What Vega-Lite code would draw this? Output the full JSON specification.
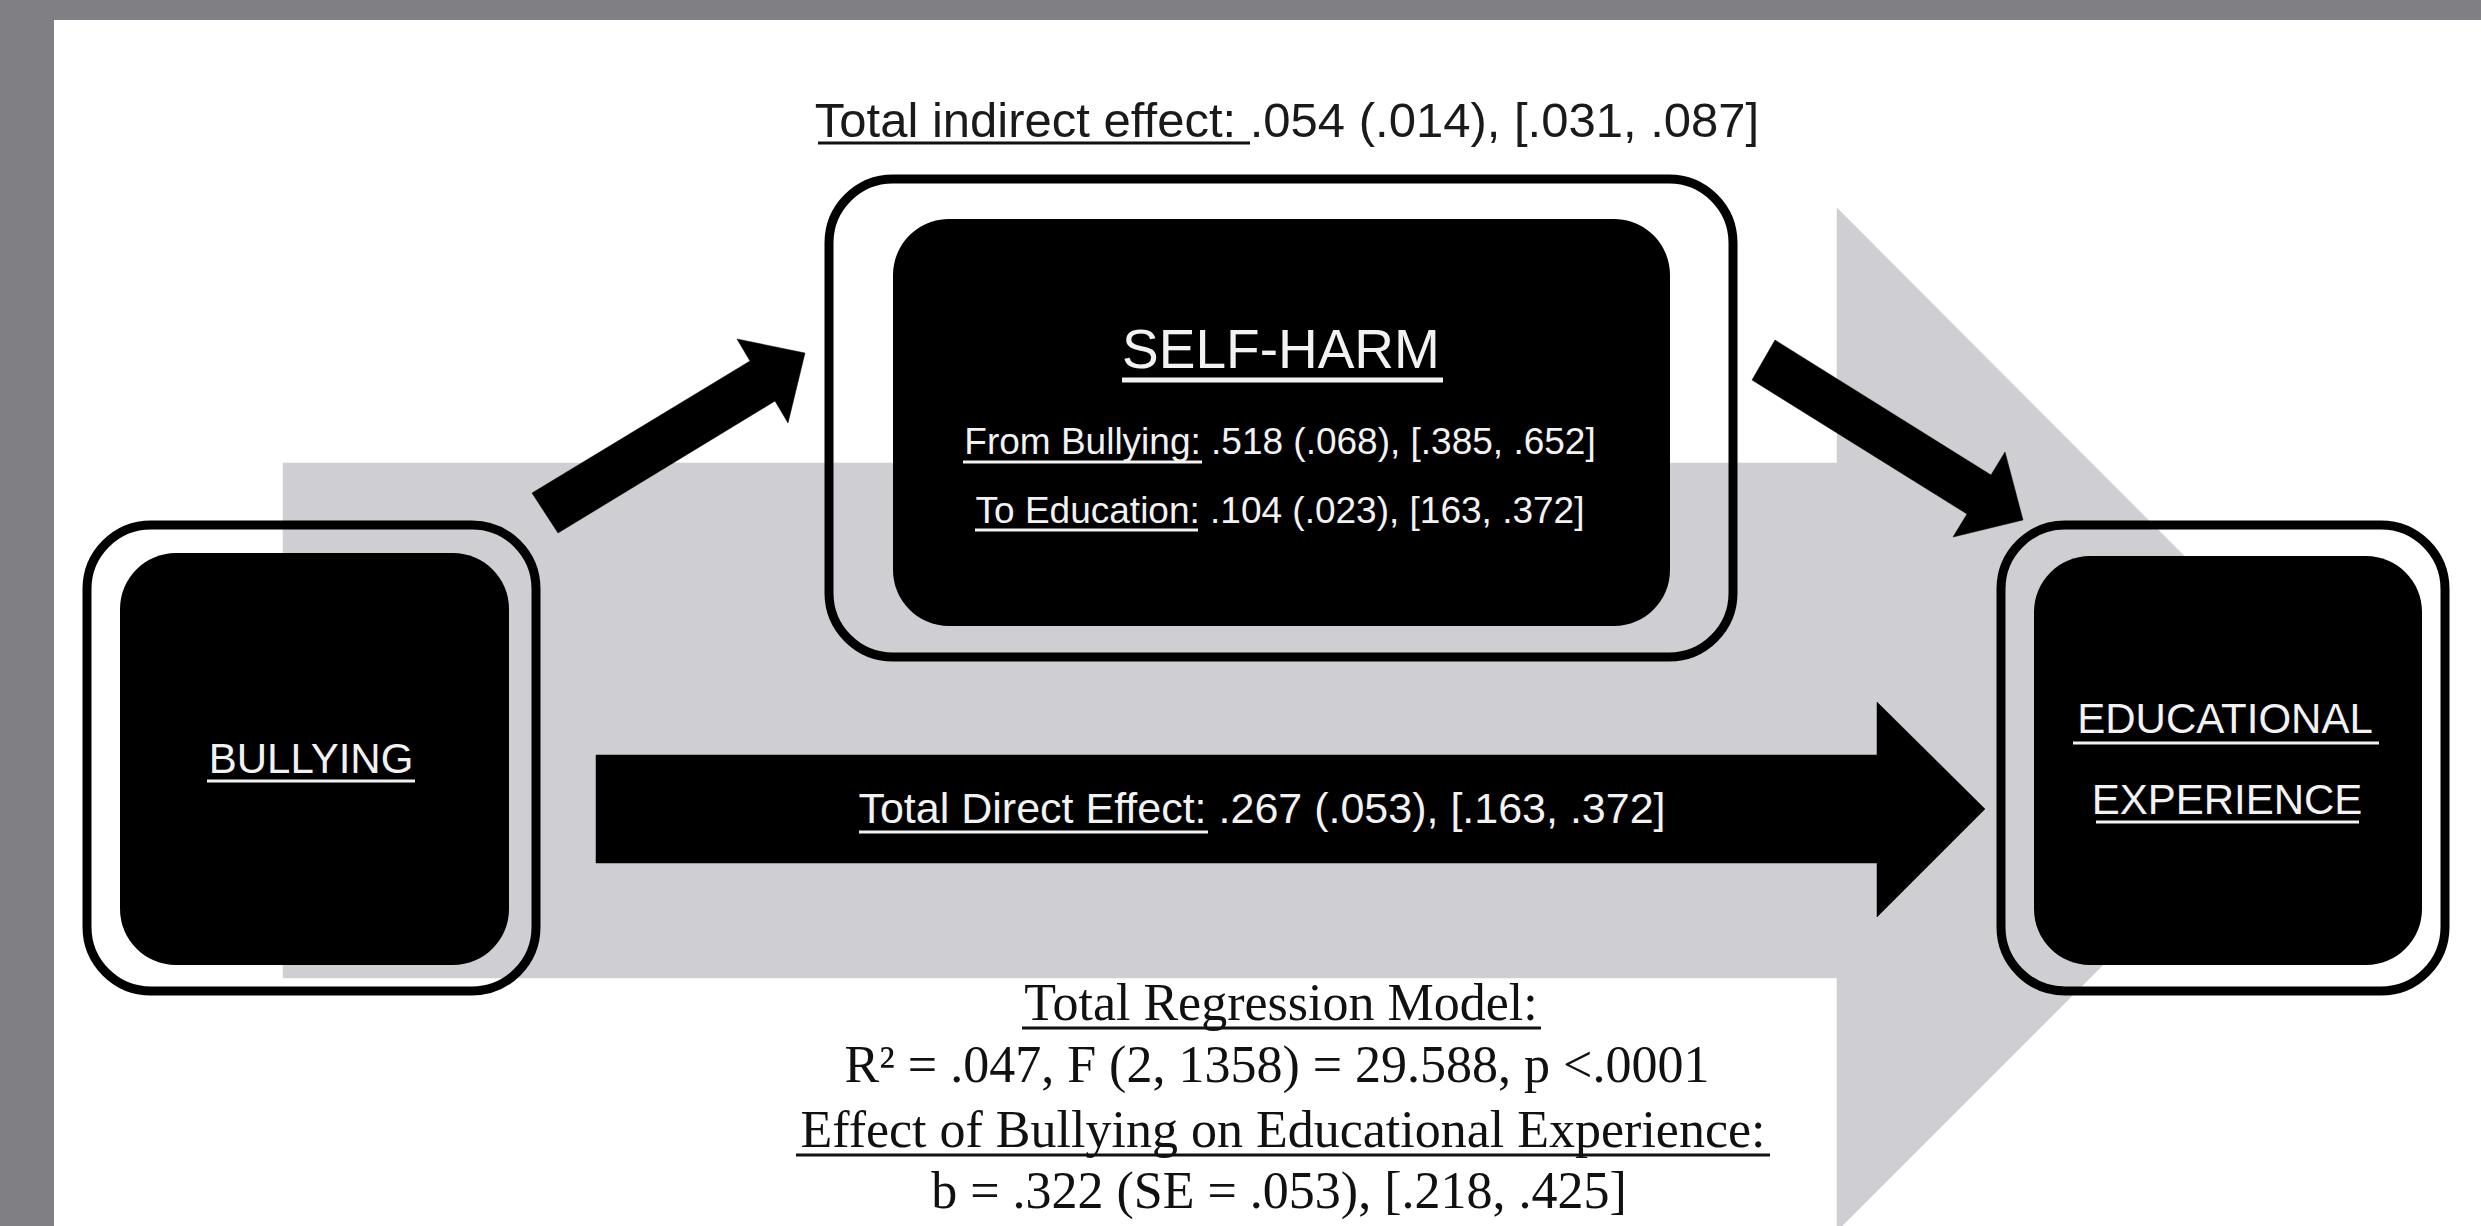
{
  "$schema": "https://vega.github.io/schema/vega-lite/v6.json",
  "width": 2481,
  "height": 1226,
  "autosize": {"type": "fit", "contains": "padding"},
  "padding": 0,
  "background": "#807f84",
  "config": {"view": {"stroke": null}},
  "datasets": {
    "panel": [{"x": 54, "x2": 2481, "y": 20, "y2": 1226}],
    "shapes": [
      {"shape": "band", "k": 1, "x": 283, "y": 463},
      {"shape": "band", "k": 2, "x": 1837, "y": 463},
      {"shape": "band", "k": 3, "x": 1837, "y": 208},
      {"shape": "band", "k": 4, "x": 2348, "y": 720},
      {"shape": "band", "k": 5, "x": 1842, "y": 1226},
      {"shape": "band", "k": 6, "x": 1837, "y": 1226},
      {"shape": "band", "k": 7, "x": 1837, "y": 978},
      {"shape": "band", "k": 8, "x": 283, "y": 978},
      {"shape": "a1", "k": 1, "x": 532, "y": 493},
      {"shape": "a1", "k": 2, "x": 750, "y": 361},
      {"shape": "a1", "k": 3, "x": 737, "y": 339},
      {"shape": "a1", "k": 4, "x": 805, "y": 353},
      {"shape": "a1", "k": 5, "x": 788, "y": 423},
      {"shape": "a1", "k": 6, "x": 775, "y": 401},
      {"shape": "a1", "k": 7, "x": 558, "y": 533},
      {"shape": "a2", "k": 1, "x": 1775, "y": 340},
      {"shape": "a2", "k": 2, "x": 1991, "y": 475},
      {"shape": "a2", "k": 3, "x": 2005, "y": 452},
      {"shape": "a2", "k": 4, "x": 2023, "y": 520},
      {"shape": "a2", "k": 5, "x": 1953, "y": 537},
      {"shape": "a2", "k": 6, "x": 1967, "y": 514},
      {"shape": "a2", "k": 7, "x": 1752, "y": 380},
      {"shape": "a3", "k": 1, "x": 596, "y": 755},
      {"shape": "a3", "k": 2, "x": 1877, "y": 755},
      {"shape": "a3", "k": 3, "x": 1877, "y": 702},
      {"shape": "a3", "k": 4, "x": 1985, "y": 809},
      {"shape": "a3", "k": 5, "x": 1877, "y": 917},
      {"shape": "a3", "k": 6, "x": 1877, "y": 863},
      {"shape": "a3", "k": 7, "x": 596, "y": 863}
    ],
    "boxes": [
      {"part": "outer", "node": "bullying", "x": 87, "x2": 536, "y": 525, "y2": 991},
      {"part": "outer", "node": "selfharm", "x": 829, "x2": 1733, "y": 179, "y2": 657},
      {"part": "outer", "node": "education", "x": 2001, "x2": 2445, "y": 525, "y2": 991},
      {"part": "inner", "node": "bullying", "x": 120, "x2": 509, "y": 553, "y2": 965},
      {"part": "inner", "node": "selfharm", "x": 893, "x2": 1670, "y": 219, "y2": 626},
      {"part": "inner", "node": "education", "x": 2034, "x2": 2422, "y": 556, "y2": 965}
    ],
    "labels": [
      {"role": "top", "label": "Total indirect effect: .054 (.014), [.031, .087]", "x": 1287, "y": 137},
      {"role": "head", "label": "SELF-HARM", "x": 1281, "y": 368},
      {"role": "inbox", "label": "From Bullying: .518 (.068), [.385, .652]", "x": 1280, "y": 454},
      {"role": "inbox", "label": "To Education: .104 (.023), [163, .372]", "x": 1280, "y": 523},
      {"role": "node", "label": "BULLYING", "x": 311, "y": 773},
      {"role": "node", "label": "EDUCATIONAL", "x": 2225, "y": 733},
      {"role": "node", "label": "EXPERIENCE", "x": 2227, "y": 814},
      {"role": "direct", "label": "Total Direct Effect: .267 (.053), [.163, .372]", "x": 1262, "y": 823},
      {"role": "model", "label": "Total Regression Model:", "x": 1281, "y": 1020},
      {"role": "model", "label": "R² = .047, F (2, 1358) = 29.588, p <.0001", "x": 1277, "y": 1082},
      {"role": "model", "label": "Effect of Bullying on Educational Experience:", "x": 1283, "y": 1147},
      {"role": "model", "label": "b = .322 (SE = .053), [.218, .425]", "x": 1279, "y": 1208}
    ],
    "underlines": [
      {"tone": "black", "x": 818, "x2": 1250, "y": 143},
      {"tone": "black", "x": 1022, "x2": 1541, "y": 1028},
      {"tone": "black", "x": 796, "x2": 1770, "y": 1155},
      {"tone": "white", "x": 963, "x2": 1202, "y": 462},
      {"tone": "white", "x": 975, "x2": 1198, "y": 530},
      {"tone": "white", "x": 207, "x2": 415, "y": 781},
      {"tone": "white", "x": 2073, "x2": 2379, "y": 743},
      {"tone": "white", "x": 2096, "x2": 2359, "y": 822},
      {"tone": "white", "x": 859, "x2": 1208, "y": 832},
      {"tone": "whitethick", "x": 1122, "x2": 1443, "y": 380}
    ]
  },
  "layer": [
    {
      "data": {"name": "panel"},
      "mark": {"type": "rect", "fill": "#ffffff"},
      "encoding": {
        "x": {"field": "x", "type": "quantitative", "scale": {"domain": [0, 2481], "nice": false, "zero": false}, "axis": null},
        "x2": {"field": "x2"},
        "y": {"field": "y", "type": "quantitative", "scale": {"domain": [0, 1226], "nice": false, "zero": false, "reverse": true}, "axis": null},
        "y2": {"field": "y2"}
      }
    },
    {
      "data": {"name": "shapes"},
      "transform": [{"filter": "datum.shape === 'band'"}],
      "mark": {"type": "line", "fill": "#cfcfd3", "stroke": "#cfcfd3", "strokeWidth": 0.5, "interpolate": "linear-closed", "clip": true},
      "encoding": {
        "x": {"field": "x", "type": "quantitative", "scale": {"domain": [0, 2481], "nice": false, "zero": false}, "axis": null},
        "y": {"field": "y", "type": "quantitative", "scale": {"domain": [0, 1226], "nice": false, "zero": false, "reverse": true}, "axis": null},
        "order": {"field": "k", "type": "quantitative"}
      }
    },
    {
      "data": {"name": "boxes"},
      "transform": [{"filter": "datum.part === 'outer'"}],
      "mark": {"type": "rect", "fill": "transparent", "stroke": "#000000", "strokeWidth": 9, "cornerRadius": 64},
      "encoding": {
        "x": {"field": "x", "type": "quantitative", "scale": {"domain": [0, 2481], "nice": false, "zero": false}, "axis": null},
        "x2": {"field": "x2"},
        "y": {"field": "y", "type": "quantitative", "scale": {"domain": [0, 1226], "nice": false, "zero": false, "reverse": true}, "axis": null},
        "y2": {"field": "y2"}
      }
    },
    {
      "data": {"name": "boxes"},
      "transform": [{"filter": "datum.part === 'inner'"}],
      "mark": {"type": "rect", "fill": "#000000", "cornerRadius": 56},
      "encoding": {
        "x": {"field": "x", "type": "quantitative", "scale": {"domain": [0, 2481], "nice": false, "zero": false}, "axis": null},
        "x2": {"field": "x2"},
        "y": {"field": "y", "type": "quantitative", "scale": {"domain": [0, 1226], "nice": false, "zero": false, "reverse": true}, "axis": null},
        "y2": {"field": "y2"}
      }
    },
    {
      "data": {"name": "shapes"},
      "transform": [{"filter": "datum.shape !== 'band'"}],
      "mark": {"type": "line", "fill": "#000000", "stroke": "#000000", "strokeWidth": 0.5, "interpolate": "linear-closed"},
      "encoding": {
        "x": {"field": "x", "type": "quantitative", "scale": {"domain": [0, 2481], "nice": false, "zero": false}, "axis": null},
        "y": {"field": "y", "type": "quantitative", "scale": {"domain": [0, 1226], "nice": false, "zero": false, "reverse": true}, "axis": null},
        "detail": {"field": "shape", "type": "nominal"},
        "order": {"field": "k", "type": "quantitative"}
      }
    },
    {
      "data": {"name": "labels"},
      "transform": [{"filter": "datum.role === 'top'"}],
      "mark": {"type": "text", "font": "Liberation Sans, sans-serif", "fontSize": 49, "color": "#1a1a1a", "align": "center", "baseline": "alphabetic"},
      "encoding": {
        "x": {"field": "x", "type": "quantitative", "scale": {"domain": [0, 2481], "nice": false, "zero": false}, "axis": null},
        "y": {"field": "y", "type": "quantitative", "scale": {"domain": [0, 1226], "nice": false, "zero": false, "reverse": true}, "axis": null},
        "text": {"field": "label"}
      }
    },
    {
      "data": {"name": "labels"},
      "transform": [{"filter": "datum.role === 'head'"}],
      "mark": {"type": "text", "font": "Liberation Sans, sans-serif", "fontSize": 55, "color": "#f2f2f2", "align": "center", "baseline": "alphabetic"},
      "encoding": {
        "x": {"field": "x", "type": "quantitative", "scale": {"domain": [0, 2481], "nice": false, "zero": false}, "axis": null},
        "y": {"field": "y", "type": "quantitative", "scale": {"domain": [0, 1226], "nice": false, "zero": false, "reverse": true}, "axis": null},
        "text": {"field": "label"}
      }
    },
    {
      "data": {"name": "labels"},
      "transform": [{"filter": "datum.role === 'inbox'"}],
      "mark": {"type": "text", "font": "Liberation Sans, sans-serif", "fontSize": 37, "color": "#f2f2f2", "align": "center", "baseline": "alphabetic"},
      "encoding": {
        "x": {"field": "x", "type": "quantitative", "scale": {"domain": [0, 2481], "nice": false, "zero": false}, "axis": null},
        "y": {"field": "y", "type": "quantitative", "scale": {"domain": [0, 1226], "nice": false, "zero": false, "reverse": true}, "axis": null},
        "text": {"field": "label"}
      }
    },
    {
      "data": {"name": "labels"},
      "transform": [{"filter": "datum.role === 'node'"}],
      "mark": {"type": "text", "font": "Liberation Sans, sans-serif", "fontSize": 42, "color": "#f2f2f2", "align": "center", "baseline": "alphabetic"},
      "encoding": {
        "x": {"field": "x", "type": "quantitative", "scale": {"domain": [0, 2481], "nice": false, "zero": false}, "axis": null},
        "y": {"field": "y", "type": "quantitative", "scale": {"domain": [0, 1226], "nice": false, "zero": false, "reverse": true}, "axis": null},
        "text": {"field": "label"}
      }
    },
    {
      "data": {"name": "labels"},
      "transform": [{"filter": "datum.role === 'direct'"}],
      "mark": {"type": "text", "font": "Liberation Sans, sans-serif", "fontSize": 43, "color": "#f2f2f2", "align": "center", "baseline": "alphabetic"},
      "encoding": {
        "x": {"field": "x", "type": "quantitative", "scale": {"domain": [0, 2481], "nice": false, "zero": false}, "axis": null},
        "y": {"field": "y", "type": "quantitative", "scale": {"domain": [0, 1226], "nice": false, "zero": false, "reverse": true}, "axis": null},
        "text": {"field": "label"}
      }
    },
    {
      "data": {"name": "labels"},
      "transform": [{"filter": "datum.role === 'model'"}],
      "mark": {"type": "text", "font": "Liberation Serif, serif", "fontSize": 52, "color": "#111111", "align": "center", "baseline": "alphabetic"},
      "encoding": {
        "x": {"field": "x", "type": "quantitative", "scale": {"domain": [0, 2481], "nice": false, "zero": false}, "axis": null},
        "y": {"field": "y", "type": "quantitative", "scale": {"domain": [0, 1226], "nice": false, "zero": false, "reverse": true}, "axis": null},
        "text": {"field": "label"}
      }
    },
    {
      "data": {"name": "underlines"},
      "transform": [{"filter": "datum.tone === 'black'"}],
      "mark": {"type": "rule", "color": "#111111", "strokeWidth": 3},
      "encoding": {
        "x": {"field": "x", "type": "quantitative", "scale": {"domain": [0, 2481], "nice": false, "zero": false}, "axis": null},
        "x2": {"field": "x2"},
        "y": {"field": "y", "type": "quantitative", "scale": {"domain": [0, 1226], "nice": false, "zero": false, "reverse": true}, "axis": null}
      }
    },
    {
      "data": {"name": "underlines"},
      "transform": [{"filter": "datum.tone === 'white'"}],
      "mark": {"type": "rule", "color": "#f2f2f2", "strokeWidth": 3},
      "encoding": {
        "x": {"field": "x", "type": "quantitative", "scale": {"domain": [0, 2481], "nice": false, "zero": false}, "axis": null},
        "x2": {"field": "x2"},
        "y": {"field": "y", "type": "quantitative", "scale": {"domain": [0, 1226], "nice": false, "zero": false, "reverse": true}, "axis": null}
      }
    },
    {
      "data": {"name": "underlines"},
      "transform": [{"filter": "datum.tone === 'whitethick'"}],
      "mark": {"type": "rule", "color": "#f2f2f2", "strokeWidth": 5},
      "encoding": {
        "x": {"field": "x", "type": "quantitative", "scale": {"domain": [0, 2481], "nice": false, "zero": false}, "axis": null},
        "x2": {"field": "x2"},
        "y": {"field": "y", "type": "quantitative", "scale": {"domain": [0, 1226], "nice": false, "zero": false, "reverse": true}, "axis": null}
      }
    }
  ]
}
